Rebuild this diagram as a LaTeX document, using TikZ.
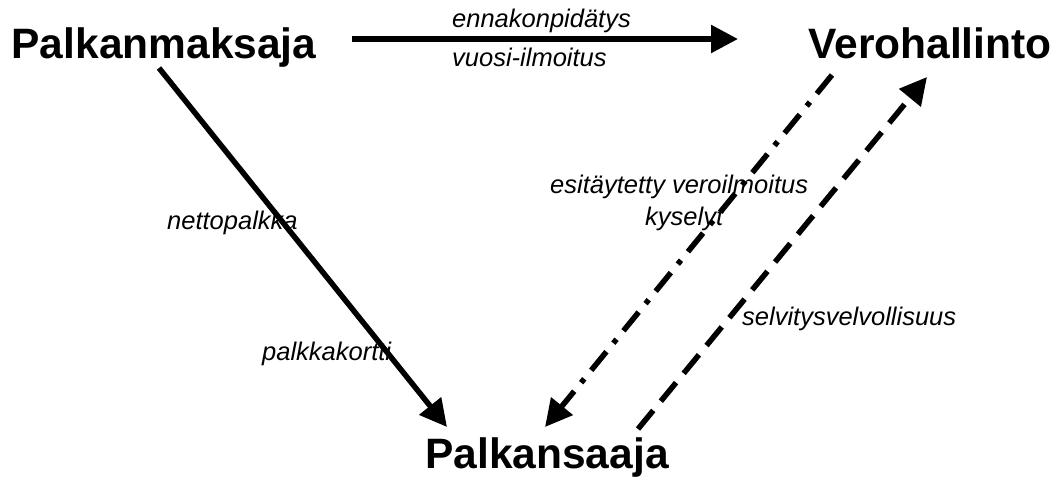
\documentclass[tikz,border=0pt]{standalone}
\usepackage{fontspec}
\setmainfont{Liberation Sans}
\usetikzlibrary{arrows.meta}
\tikzset{
  party/.style={font=\fontsize{42.5}{48}\selectfont\bfseries, inner sep=0pt, anchor=base},
  lbl/.style={font=\fontsize{25.5}{29}\selectfont\itshape, inner sep=0pt, anchor=base west},
  flow/.style={line width=5.5pt, -{Triangle[length=27pt,width=27pt]}},
  dashflow/.style={flow, dash pattern=on 24pt off 12pt},
  dashdotflow/.style={flow, dash pattern=on 24pt off 11pt on 5pt off 11pt},
}
\begin{document}
\begin{tikzpicture}[x=1pt,y=-1pt]
\useasboundingbox (0,0) rectangle (1058,486);
\node[party] (pm) at (164,59) {Palkanmaksaja};
\node[party] (vh) at (930,59) {Verohallinto};
\node[party] (ps) at (547,468) {Palkansaaja};

\coordinate (pmR) at (352,39);
\coordinate (vhL) at (738,39);
\coordinate (pmB) at (159,68);
\coordinate (psL) at (447,427);
\coordinate (vhB) at (832,75);
\coordinate (psM) at (545,427);
\coordinate (psR) at (638,429);
\coordinate (vhR) at (927,77);

\draw[flow] (pmR) -- (vhL);
\draw[flow] (pmB) -- (psL);
\draw[dashdotflow] (vhB) -- (psM);
\draw[dashflow] (psR) -- (vhR);

\node[lbl] (l1) at (452,28) {ennakonpidätys};
\node[lbl] (l2) at (452,67) {vuosi-ilmoitus};
\node[lbl] (l3) at (167,230) {nettopalkka};
\node[lbl] (l4) at (262,360) {palkkakortti};
\node[lbl] (l5) at (550,194) {esitäytetty veroilmoitus};
\node[lbl] (l6) at (645,226) {kyselyt};
\node[lbl] (l7) at (742,326) {selvitysvelvollisuus};
\end{tikzpicture}
\end{document}
